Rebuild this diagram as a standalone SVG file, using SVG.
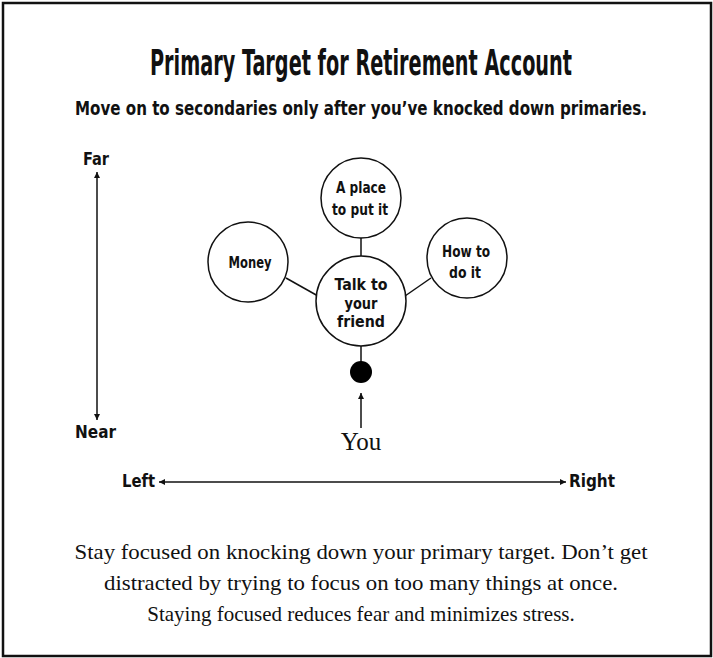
<svg xmlns="http://www.w3.org/2000/svg" width="713" height="658" viewBox="0 0 713 658">
<defs>
<style>
.c{font-family:"DejaVu Sans Condensed","Liberation Sans Narrow","Liberation Sans",sans-serif;font-weight:bold;fill:#111;font-stretch:condensed}
.s{font-family:"Liberation Serif","DejaVu Serif",serif;fill:#111}
.n{fill:#fff;stroke:#111;stroke-width:1.5}
.l{stroke:#111;stroke-width:1.5;fill:none}
</style>
<marker id="ah" markerWidth="8" markerHeight="8" refX="6" refY="3" orient="auto" markerUnits="userSpaceOnUse">
<path d="M0,0 L6,3 L0,6 Z" fill="#111"/>
</marker>
</defs>
<rect x="0" y="0" width="713" height="658" fill="#fff"/>
<rect x="3" y="3" width="708" height="653" fill="none" stroke="#111" stroke-width="2.5"/>
<g id="title">
<text class="c" x="361" y="75" font-size="35" text-anchor="middle" textLength="422" lengthAdjust="spacingAndGlyphs">Primary Target for Retirement Account</text>
<text class="c" x="361" y="115" font-size="19" text-anchor="middle" textLength="572" lengthAdjust="spacingAndGlyphs">Move on to secondaries only after you’ve knocked down primaries.</text>
</g>
<g id="connectors">
<line class="l" x1="361" y1="238" x2="361" y2="256"/>
<line class="l" x1="286" y1="278" x2="318" y2="296"/>
<line class="l" x1="431" y1="278" x2="405" y2="296"/>
<line class="l" x1="361" y1="346" x2="361" y2="362"/>
<line class="l" x1="361" y1="428" x2="361" y2="393" marker-end="url(#ah)"/>
<line class="l" x1="97" y1="296" x2="97" y2="172" marker-end="url(#ah)"/>
<line class="l" x1="97" y1="296" x2="97" y2="420" marker-end="url(#ah)"/>
<line class="l" x1="362" y1="482" x2="159" y2="482" marker-end="url(#ah)"/>
<line class="l" x1="362" y1="482" x2="566" y2="482" marker-end="url(#ah)"/>
</g>
<g id="node-place">
<circle class="n" cx="361" cy="198" r="40"/>
<text class="c" x="361" y="193" font-size="16" text-anchor="middle" textLength="50" lengthAdjust="spacingAndGlyphs">A place</text>
<text class="c" x="360" y="215" font-size="16" text-anchor="middle" textLength="56" lengthAdjust="spacingAndGlyphs">to put it</text>
</g>
<g id="node-money">
<circle class="n" cx="248" cy="262" r="40"/>
<text class="c" x="250" y="268" font-size="16" text-anchor="middle" textLength="43" lengthAdjust="spacingAndGlyphs">Money</text>
</g>
<g id="node-how">
<circle class="n" cx="467" cy="258" r="40"/>
<text class="c" x="466" y="257" font-size="16" text-anchor="middle" textLength="48" lengthAdjust="spacingAndGlyphs">How to</text>
<text class="c" x="465" y="278" font-size="16" text-anchor="middle" textLength="32" lengthAdjust="spacingAndGlyphs">do it</text>
</g>
<g id="node-friend">
<circle class="n" cx="361" cy="301" r="45"/>
<text class="c" x="361" y="290" font-size="15" text-anchor="middle" textLength="53" lengthAdjust="spacingAndGlyphs">Talk to</text>
<text class="c" x="361" y="309" font-size="15" text-anchor="middle" textLength="33" lengthAdjust="spacingAndGlyphs">your</text>
<text class="c" x="361" y="327" font-size="15" text-anchor="middle" textLength="48" lengthAdjust="spacingAndGlyphs">friend</text>
</g>
<g id="node-dot">
<circle cx="361" cy="372" r="11" fill="#000"/>
</g>
<g id="node-you">
<text class="s" x="361" y="450" font-size="25" text-anchor="middle">You</text>
</g>
<g id="axes-labels">
<text class="c" x="83" y="165" font-size="17" textLength="26" lengthAdjust="spacingAndGlyphs">Far</text>
<text class="c" x="75" y="438" font-size="17" textLength="41" lengthAdjust="spacingAndGlyphs">Near</text>
<text class="c" x="122" y="487" font-size="17" textLength="33" lengthAdjust="spacingAndGlyphs">Left</text>
<text class="c" x="569" y="487" font-size="17" textLength="46" lengthAdjust="spacingAndGlyphs">Right</text>
</g>
<g id="caption">
<text class="s" x="361" y="559" font-size="21" text-anchor="middle" textLength="573" lengthAdjust="spacingAndGlyphs">Stay focused on knocking down your primary target. Don’t get</text>
<text class="s" x="361" y="590" font-size="21" text-anchor="middle" textLength="514" lengthAdjust="spacingAndGlyphs">distracted by trying to focus on too many things at once.</text>
<text class="s" x="361" y="621" font-size="21" text-anchor="middle">Staying focused reduces fear and minimizes stress.</text>
</g>
</svg>
